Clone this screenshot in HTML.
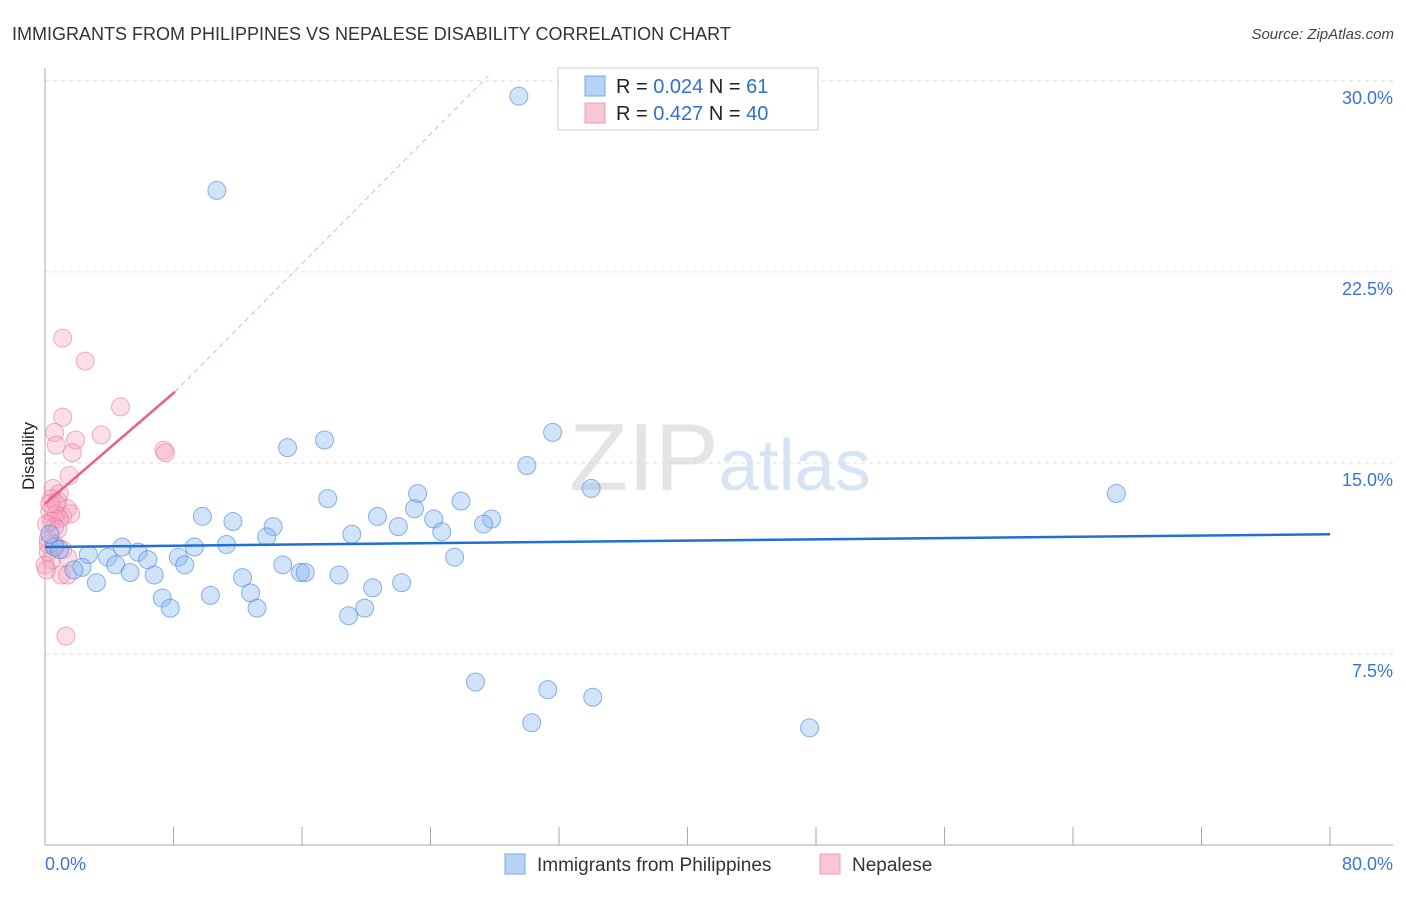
<!DOCTYPE html>
<html><head><meta charset="utf-8"><style>
body{margin:0;background:#fff;font-family:"Liberation Sans",sans-serif;}
svg text{font-family:"Liberation Sans",sans-serif;}
</style></head><body>
<svg id="chart" width="1406" height="892" xmlns="http://www.w3.org/2000/svg">
<text x="12" y="40" font-size="18" fill="#333">IMMIGRANTS FROM PHILIPPINES VS NEPALESE DISABILITY CORRELATION CHART</text>
<text x="1394" y="39" font-size="15" fill="#444" text-anchor="end" font-style="italic">Source: ZipAtlas.com</text>
<text x="720" y="490" font-size="96" text-anchor="middle" fill="#e4e4e4" font-family="Liberation Serif">ZIP<tspan fill="#d6e4f5" font-family="Liberation Sans" font-size="72">atlas</tspan></text>
<g id="grid"></g><g id="axes"></g><g id="marks"></g>
<text transform="translate(34,456) rotate(-90)" font-size="17" fill="#222" text-anchor="middle">Disability</text>
<g>
<rect x="558" y="68" width="260" height="62" fill="#fff" stroke="#ccc"/>
<rect x="585" y="76" width="20" height="20" fill="#b7d2f5" stroke="#7aa8e6"/>
<rect x="585" y="103" width="20" height="20" fill="#f9c6d6" stroke="#eb9ab5"/>
<text x="616" y="93" font-size="20" fill="#222">R = <tspan fill="#2f6fd0">0.024</tspan>   N =  <tspan fill="#2f6fd0">61</tspan></text>
<text x="616" y="120" font-size="20" fill="#222">R = <tspan fill="#2f6fd0">0.427</tspan>   N = <tspan fill="#2f6fd0">40</tspan></text>
</g>
<g>
<rect x="505" y="854" width="20" height="20" fill="#b7d2f5" stroke="#7aa8e6"/>
<text x="537" y="871" font-size="19" fill="#333">Immigrants from Philippines</text>
<rect x="820" y="854" width="20" height="20" fill="#f9c6d6" stroke="#eb9ab5"/>
<text x="852" y="871" font-size="19" fill="#333">Nepalese</text>
</g>
</svg>
<script>
const xTicks=[0,8,16,24,32,40,48,56,64,72,80];
const yTicks=[7.5,15,22.5,30];
const yTickLabels=["7.5%","15.0%","22.5%","30.0%"];
const blueX=[29.5,10.7,31.6,17.4,15.1,30.0,66.7,34.0,23.2,17.6,25.9,9.8,11.7,20.7,23.0,24.2,27.8,27.3,14.2,22.0,24.7,19.1,13.8,4.8,0.6,9.3,11.3,2.7,3.9,5.8,8.3,6.4,4.4,2.3,8.7,14.8,25.5,1.8,5.3,6.8,12.3,15.9,16.2,18.3,3.2,20.4,22.2,12.8,10.3,7.3,7.8,13.2,19.9,18.9,26.8,31.3,34.1,30.3,47.6,0.9,0.3];
const blueY=[29.4,25.7,16.2,15.9,15.6,14.9,13.8,14.0,13.8,13.6,13.5,12.9,12.7,12.9,13.2,12.8,12.8,12.6,12.5,12.5,12.3,12.2,12.1,11.7,11.7,11.7,11.8,11.4,11.3,11.5,11.3,11.2,11.0,10.9,11.0,11.0,11.3,10.8,10.7,10.6,10.5,10.7,10.7,10.6,10.3,10.1,10.3,9.9,9.8,9.7,9.3,9.3,9.3,9.0,6.4,6.1,5.8,4.8,4.6,11.6,12.2];
const pinkX=[1.1,2.5,4.7,1.1,3.5,0.6,1.9,0.7,1.7,7.4,7.5,1.5,0.5,0.9,0.4,0.8,1.4,0.3,0.7,1.1,1.6,0.4,0.9,0.6,0.1,0.8,0.2,0.6,1.1,0.2,1.4,0.4,0.0,0.1,1.0,1.4,1.3,0.3,0.7,0.2];
const pinkY=[19.9,19.0,17.2,16.8,16.1,16.2,15.9,15.7,15.4,15.5,15.4,14.5,14.0,13.8,13.6,13.5,13.2,13.1,13.0,12.9,13.0,12.7,12.8,12.5,12.6,12.4,12.0,11.8,11.6,11.5,11.3,11.2,11.0,10.8,10.6,10.6,8.2,13.4,13.4,11.8];
const blueTrend=[[0,11.7],[80,12.2]];
const pinkTrend=[[0,13.4],[8.1,17.8]];
const pinkExt=[[8.1,17.8],[27.6,30.2]];
const X0=45,X1=1330,Y0=845,PXY=25.47;
const sx=v=>X0+(X1-X0)*v/80, sy=v=>Y0-PXY*v;
const NS="http://www.w3.org/2000/svg";
function mk(tag,attrs,parent){const e=document.createElementNS(NS,tag);for(const k in attrs)e.setAttribute(k,attrs[k]);document.getElementById(parent).appendChild(e);return e;}
yTicks.forEach((t,i)=>{
 const g=mk('line',{x1:X0,x2:1393,y1:sy(t),y2:sy(t),stroke:'#ddd','stroke-dasharray':'4,4'},'grid');
 
 
 const tx=mk('text',{x:1393,y:sy(t)+23,'font-size':18,fill:'#3a74d4','text-anchor':'end'},'axes');
 tx.textContent=yTickLabels[i];
 
 
});
const ax=mk('line',{x1:X0,x2:X0,y1:68,y2:Y0,stroke:'#aaa'},'axes');


const bx=mk('line',{x1:X0,x2:1393,y1:Y0,y2:Y0,stroke:'#aaa'},'axes');


xTicks.forEach(t=>{
 const l=mk('line',{x1:sx(t),x2:sx(t),y1:Y0,y2:Y0-18,stroke:'#aaa'},'axes');
 
 
});
const xl0=mk('text',{x:45,y:870,'font-size':18,fill:'#3a74d4'},'axes');xl0.textContent='0.0%';


const xl1=mk('text',{x:1393,y:870,'font-size':18,fill:'#3a74d4','text-anchor':'end'},'axes');xl1.textContent='80.0%';


const pe=mk('line',{x1:sx(pinkExt[0][0]),y1:sy(pinkExt[0][1]),x2:sx(pinkExt[1][0]),y2:sy(pinkExt[1][1]),stroke:'#eab0c2','stroke-dasharray':'5,4'},'marks');


pinkX.forEach((v,i)=>{
 const c=mk('circle',{cx:sx(v),cy:sy(pinkY[i]),r:9,fill:'rgba(245,160,190,0.35)',stroke:'rgba(230,120,160,0.6)'},'marks');
 
 
});
blueX.forEach((v,i)=>{
 const c=mk('circle',{cx:sx(v),cy:sy(blueY[i]),r:9,fill:'rgba(140,185,240,0.4)',stroke:'rgba(70,130,220,0.6)'},'marks');
 
 
});
const bt=mk('line',{x1:sx(blueTrend[0][0]),y1:sy(blueTrend[0][1]),x2:sx(blueTrend[1][0]),y2:sy(blueTrend[1][1]),stroke:'#1f6fd6','stroke-width':2.5},'marks');


const pt=mk('line',{x1:sx(pinkTrend[0][0]),y1:sy(pinkTrend[0][1]),x2:sx(pinkTrend[1][0]),y2:sy(pinkTrend[1][1]),stroke:'#e8608c','stroke-width':2.5},'marks');


</script>
</body></html>
